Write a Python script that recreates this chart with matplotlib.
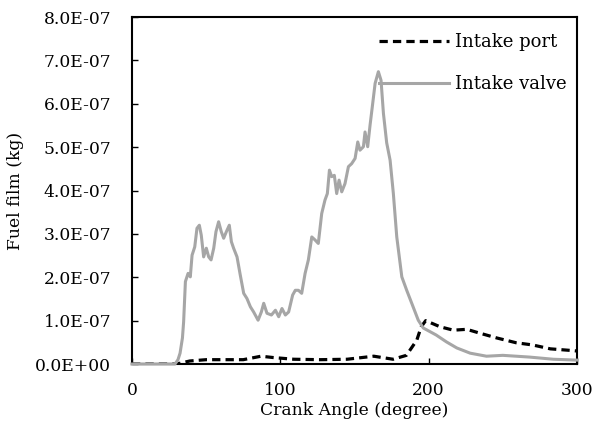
import matplotlib
matplotlib.use("Agg")
import matplotlib.pyplot as plt

plt.rcParams['font.family'] = ['DejaVu Serif']

# fuel film, units of 1e-7 kg
valve_deg = [0, 20, 29, 31, 32.4, 34, 34.8, 36, 37.8, 39.3, 40.5, 42.3, 43.8, 45.4, 46.7,
             48.3, 50.1, 51.7, 53.3, 55.1, 56.6, 58.4, 60.2, 61.8, 63.6, 65.6, 67, 68.5,
             70.8, 73, 75.3, 77.5, 79.8, 82, 85, 87.2, 88.8, 91, 94, 96.7, 98.9, 101.1,
             103.4, 105.6, 108.3, 110.1, 112.2, 114.4, 116.7, 118.9, 121.2, 123.4, 125.6,
             127.9, 130.1, 131.7, 133.1, 134.6, 136.4, 138, 139.6, 141.4, 143.6, 145.9,
             148.1, 150.4, 152.2, 153.7, 156, 157.1, 158.9, 160.5, 162, 163.9, 166.1,
             167.9, 169.5, 171.7, 174, 176.2, 178.5, 181.9, 185.2, 188.6, 193, 196.4,
             205, 212, 219, 228, 239, 250, 268, 284, 300]
valve = [0, 0, 0, 0.1, 0.25, 0.6, 0.97, 1.9, 2.09, 2.01, 2.51, 2.70, 3.13, 3.20, 2.97,
         2.47, 2.67, 2.47, 2.40, 2.67, 3.05, 3.28, 3.05, 2.90, 3.05, 3.20, 2.82, 2.67,
         2.47, 2.05, 1.63, 1.51, 1.32, 1.20, 1.01, 1.20, 1.40, 1.17, 1.13, 1.24, 1.09,
         1.28, 1.13, 1.20, 1.59, 1.70, 1.70, 1.63, 2.09, 2.40, 2.93, 2.86, 2.78, 3.47,
         3.78, 3.93, 4.47, 4.32, 4.35, 3.93, 4.24, 3.97, 4.16, 4.55, 4.62, 4.74, 5.12,
         4.93, 5.01, 5.35, 5.01, 5.51, 5.93, 6.47, 6.74, 6.54, 5.78, 5.10, 4.70, 3.93,
         2.93, 2.01, 1.70, 1.40, 1.01, 0.83, 0.67, 0.51, 0.37, 0.25, 0.18, 0.2, 0.16,
         0.11, 0.09]

port_deg = [0, 30, 39, 50, 62, 75, 87, 95, 109, 127, 145, 163, 176, 185, 192, 195, 198,
            207.6, 216.6, 225.7, 234.6, 246, 259, 270, 282, 297, 300]
port = [0, 0, 0.07, 0.1, 0.1, 0.1, 0.18, 0.15, 0.11, 0.1, 0.11, 0.18, 0.11, 0.2, 0.55,
        0.86, 1.0, 0.86, 0.78, 0.8, 0.71, 0.6, 0.49, 0.44, 0.35, 0.31, 0.3]

x_ticks = [0, 100, 200, 300]
y_ticks = [0, 1, 2, 3, 4, 5, 6, 7, 8]
y_labels = ["%.1fE-07" % v if v else "0.0E+00" for v in y_ticks]

fig = plt.figure(figsize=(5.93, 4.26), dpi=100)
ax = fig.add_axes([0.2226, 0.1455, 0.7504, 0.8145])

ax.plot(port_deg, port, color="black", lw=2.3, ls=(0, (2.6, 1.6)),
        label="Intake port", zorder=3)
ax.plot(valve_deg, valve, color="#A6A6A6", lw=2.2, label="Intake valve",
        zorder=3, clip_on=False)

ax.set_xlim(0, 300)
ax.set_ylim(0, 8)
ax.set_xticks(x_ticks)
ax.set_yticks(y_ticks)
ax.set_yticklabels(y_labels)
ax.tick_params(direction="in", length=4, width=1, labelsize=12.3)
ax.tick_params(axis="y", pad=15)
ax.tick_params(axis="x", pad=13)
for s in ax.spines.values():
    s.set_linewidth(1.5)
    s.set_color("black")

ax.set_xlabel("Crank Angle (degree)", fontsize=12.3, labelpad=2)
ax.set_ylabel("Fuel film (kg)", fontsize=12.3, labelpad=8)

ax.legend(loc="upper right", frameon=False, fontsize=13, handlelength=3.9,
          handletextpad=0.3, borderaxespad=0.2, labelspacing=1.35,
          bbox_to_anchor=(1.0, 0.985))

fig.savefig("out.png", dpi=100)
